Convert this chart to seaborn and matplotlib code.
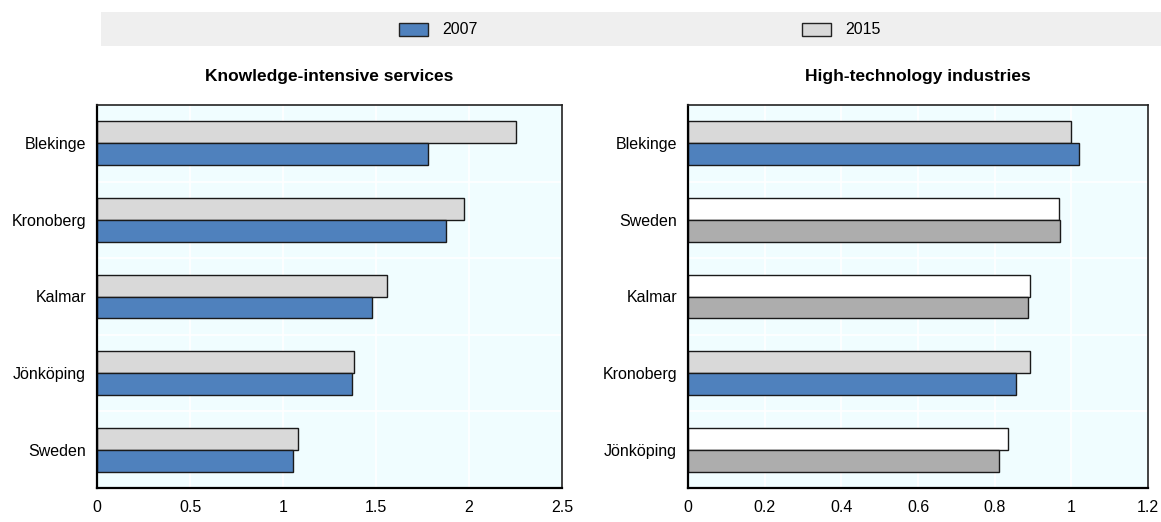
import numpy as np
import pandas as pd
import seaborn as sns
import matplotlib
matplotlib.use("Agg")
import matplotlib.pyplot as plt
from matplotlib.patches import Rectangle
from matplotlib.ticker import FixedLocator, MultipleLocator

# ---- data -------------------------------------------------------------
years = ["2007", "2015"]

kis_regions = ["Blekinge", "Kronoberg", "Kalmar", "Jönköping", "Sweden"]
kis_2007 = [1.777, 1.874, 1.479, 1.372, 1.054]
kis_2015 = [2.252, 1.973, 1.560, 1.382, 1.079]

hti_regions = ["Blekinge", "Sweden", "Kalmar", "Kronoberg", "Jönköping"]
hti_2007 = [1.021, 0.971, 0.886, 0.856, 0.811]
hti_2015 = [1.000, 0.967, 0.893, 0.891, 0.835]
hti_muted = ["Sweden", "Kalmar", "Jönköping"]

panel_titles = ["Knowledge-intensive services", "High-technology industries"]

# ---- style ------------------------------------------------------------
sns.set_style("white")
plt.rcParams["font.family"] = ["Liberation Sans Narrow", "Liberation Sans", "DejaVu Sans"]
plt.rcParams["font.size"] = 11.5
for key in ["text.color", "xtick.color", "ytick.color", "axes.labelcolor"]:
    plt.rcParams[key] = "black"

BLUE = "#4f81bd"
LIGHT = "#d9d9d9"
GREY = "#adadad"
WHITE = "#ffffff"
EDGE = "#1a1a1a"
PANEL_BG = "#f0fdff"


def long_frame(regions, v07, v15):
    return pd.DataFrame({
        "region": regions * 2,
        "year": ["2007"] * len(regions) + ["2015"] * len(regions),
        "value": list(v07) + list(v15),
    })


def draw_panel(ax, regions, v07, v15, xmax, xstep, muted=()):
    df = long_frame(regions, v07, v15)
    sns.barplot(data=df, y="region", x="value", hue="year",
                order=regions, hue_order=["2015", "2007"], orient="h",
                palette={"2015": LIGHT, "2007": BLUE}, saturation=1,
                width=0.57, edgecolor=EDGE, linewidth=1.0, legend=False, ax=ax)
    # muted regions: white for 2015, grey for 2007
    for cont, yr in zip(ax.containers, ["2015", "2007"]):
        for bar, reg in zip(cont, regions):
            if reg in muted:
                bar.set_facecolor(WHITE if yr == "2015" else GREY)

    ax.set_facecolor(PANEL_BG)
    ax.set_xlim(0, xmax)
    ax.set_ylim(len(regions) - 0.5, -0.5)
    ax.xaxis.set_major_locator(MultipleLocator(xstep))
    ax.set_xticklabels([f"{t:g}" for t in ax.get_xticks()])
    ax.yaxis.set_minor_locator(FixedLocator(np.arange(0.5, len(regions) - 0.5, 1.0)))
    ax.grid(axis="x", which="major", color="white", linewidth=1.2)
    ax.grid(axis="y", which="minor", color="white", linewidth=1.2)
    ax.set_axisbelow(True)
    ax.tick_params(axis="x", which="major", direction="in", length=5,
                   width=1, color="black", pad=9, labelsize=11.5)
    ax.tick_params(axis="y", which="major", length=0, pad=8, labelsize=11.5)
    ax.tick_params(axis="y", which="minor", direction="in", length=5,
                   width=1, color="black")
    ax.set_xlabel("")
    ax.set_ylabel("")
    for side in ["left", "bottom"]:
        ax.spines[side].set_color("black")
        ax.spines[side].set_linewidth(1.6)
    for side in ["top", "right"]:
        ax.spines[side].set_color("#222222")
        ax.spines[side].set_linewidth(1.2)


W, H = 1161, 522
fig = plt.figure(figsize=(W / 100, H / 100), dpi=100)

ax_top, ax_bot = 105, 488
ax1 = fig.add_axes([97 / W, 1 - ax_bot / H, (562 - 97) / W, (ax_bot - ax_top) / H])
ax2 = fig.add_axes([688 / W, 1 - ax_bot / H, (1148 - 688) / W, (ax_bot - ax_top) / H])

draw_panel(ax1, kis_regions, kis_2007, kis_2015, 2.5, 0.5)
draw_panel(ax2, hti_regions, hti_2007, hti_2015, 1.2, 0.2, muted=hti_muted)

for ax, title in zip([ax1, ax2], panel_titles):
    pos = ax.get_position()
    fig.text((pos.x0 + pos.x1) / 2, 1 - 77 / H, title, ha="center", va="center",
             fontsize=12.5, fontweight="bold")

# legend band across the top
fig.patches.append(Rectangle((101 / W, 1 - 46 / H), (W - 101) / W, 34 / H,
                             transform=fig.transFigure, facecolor="#efefef",
                             edgecolor="none", zorder=0))
legend_items = [(years[0], BLUE, 399), (years[1], LIGHT, 802)]
for label, color, x in legend_items:
    fig.patches.append(Rectangle((x / W, 1 - 36 / H), 29 / W, 13 / H,
                                 transform=fig.transFigure, facecolor=color,
                                 edgecolor="#222222", linewidth=1.0, zorder=2))
    fig.text((x + 43) / W, 1 - 29.5 / H, label, ha="left", va="center", fontsize=11.5)

fig.savefig("out.png", dpi=100)
